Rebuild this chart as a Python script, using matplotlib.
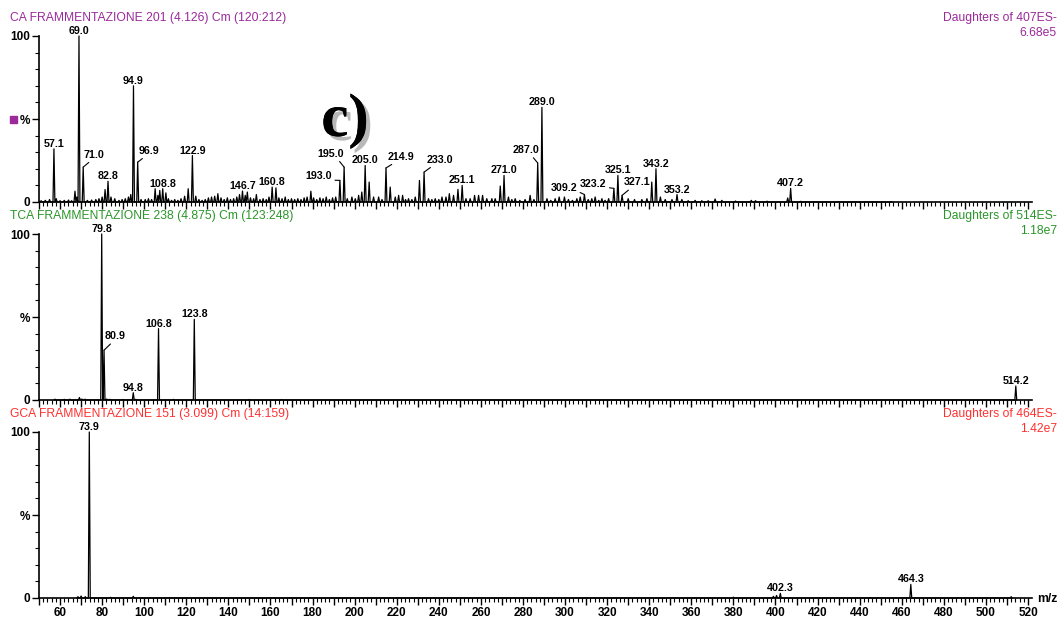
import numpy as np
import matplotlib.pyplot as plt
import matplotlib.patheffects as pe
from matplotlib.patches import Rectangle
from matplotlib.ticker import MultipleLocator, FuncFormatter

plt.rcParams['font.family'] = ['Liberation Sans', 'DejaVu Sans']

W, H = 1061, 617

# CA daughters of 407 (m/z, relative intensity %)
ca_peaks = [
    (51.0, 0.8), (53.0, 1.0), (55.0, 1.5), (57.1, 32), (58.2, 2.0), (60.0, 0.8),
    (62.0, 1.0), (64.0, 1.2), (65.5, 0.8), (67.1, 6.5), (68.0, 3.0), (69.0, 100),
    (71.0, 21), (73.0, 1.0), (75.0, 1.2), (77.0, 1.5), (78.5, 2.0), (80.0, 3.0),
    (81.4, 7.5), (82.8, 12.5), (84.2, 3.0), (86.0, 2.0), (88.0, 1.0), (89.5, 1.5),
    (91.0, 2.0), (92.5, 3.0), (93.6, 4.5), (94.9, 70), (96.9, 24), (98.5, 1.5),
    (100.5, 1.5), (102.0, 2.0), (103.5, 1.5), (105.2, 8.0), (106.5, 4.0), (107.4, 7.0),
    (108.8, 8.0), (110.3, 5.5), (111.5, 2.0), (113.0, 1.0), (114.5, 1.5), (116.0, 1.0),
    (117.5, 2.0), (119.2, 3.5), (120.9, 8.0), (122.9, 28), (124.5, 3.5), (126.0, 1.5),
    (127.5, 1.0), (129.0, 1.5), (130.5, 2.5), (132.0, 3.0), (133.5, 3.5), (135.0, 5.0),
    (136.5, 2.5), (138.0, 1.5), (139.5, 2.5), (141.0, 1.5), (142.5, 2.0), (144.0, 3.0),
    (145.3, 4.5), (146.7, 6.6), (148.0, 4.0), (149.0, 6.0), (150.5, 2.5), (152.0, 2.0),
    (153.3, 4.5), (155.0, 1.5), (156.5, 2.0), (158.0, 1.5), (159.3, 3.0), (160.8, 9.0),
    (162.6, 8.5), (164.0, 2.5), (165.5, 2.0), (167.0, 3.0), (168.5, 1.5), (170.0, 2.0),
    (171.5, 1.5), (173.0, 2.0), (174.5, 1.5), (176.0, 2.5), (177.4, 3.0), (179.2, 6.5),
    (180.5, 2.5), (182.0, 1.5), (183.5, 2.5), (185.0, 2.0), (186.5, 3.0), (188.0, 1.5),
    (189.5, 2.5), (191.0, 3.0), (193.0, 13), (195.0, 21), (196.5, 2.0), (198.7, 3.0),
    (200.3, 2.0), (201.9, 4.0), (203.4, 6.0), (205.0, 22), (206.9, 12), (209.0, 3.0),
    (211.4, 3.0), (213.0, 1.5), (214.9, 20.5), (216.9, 9.0), (219.3, 3.0), (220.9, 4.0),
    (222.8, 4.0), (224.2, 1.5), (225.6, 2.0), (227.2, 1.5), (228.8, 3.0), (230.8, 13),
    (233.0, 18), (235.1, 2.0), (236.7, 1.5), (238.3, 2.0), (240.0, 1.5), (241.5, 3.0),
    (243.4, 3.0), (245.0, 5.0), (247.0, 4.0), (249.1, 7.6), (251.1, 10), (252.9, 2.0),
    (254.9, 2.0), (257.0, 4.0), (258.9, 4.0), (260.8, 4.0), (262.8, 2.0), (265.2, 2.0),
    (266.8, 2.0), (269.2, 9.6), (271.0, 16), (273.1, 3.0), (274.7, 1.5), (276.3, 2.0),
    (278.5, 1.0), (281.0, 1.5), (283.4, 4.0), (285.2, 1.5), (287.0, 23.5), (289.0, 57),
    (291.4, 2.0), (293.2, 1.0), (295.3, 2.0), (297.2, 3.0), (299.7, 3.0), (301.6, 1.5),
    (303.5, 1.0), (305.6, 2.0), (307.2, 3.0), (309.2, 4.5), (311.0, 1.5), (312.7, 2.0),
    (314.3, 3.0), (316.0, 1.0), (317.5, 2.0), (319.0, 1.0), (320.7, 2.0), (323.2, 8.2),
    (325.1, 16), (327.1, 4.0), (330.0, 2.0), (333.0, 1.5), (336.5, 1.5), (338.9, 2.0),
    (341.2, 12), (343.2, 20), (345.3, 3.0), (347.6, 1.5), (350.8, 1.5), (353.2, 4.5),
    (355.5, 1.5), (358.5, 0.8), (361.8, 1.0), (365.0, 0.8), (368.0, 0.8), (371.3, 1.8),
    (374.5, 1.0), (381.0, 0.6), (388.5, 1.0), (390.5, 0.8), (396.0, 0.5), (405.8, 2.4),
    (407.2, 8.2), (412.0, 0.4), (430.0, 0.3), (455.0, 0.3),
]
ca_labels = [57.1, 69.0, 71.0, 82.8, 94.9, 96.9, 108.8, 122.9, 146.7, 160.8, 193.0,
             195.0, 205.0, 214.9, 233.0, 251.1, 271.0, 287.0, 289.0, 309.2, 323.2,
             325.1, 327.1, 343.2, 353.2, 407.2]

# TCA daughters of 514
tca_peaks = [
    (57.6, 0.5), (62.0, 0.4), (64.7, 0.5), (69.2, 1.5), (70.4, 0.6), (71.9, 0.5),
    (79.8, 100), (80.9, 30), (82.2, 0.6), (83.7, 0.4), (90.0, 0.3), (94.8, 4.4),
    (96.0, 0.4), (106.8, 43), (113.8, 0.4), (123.8, 48.6), (150.0, 0.3), (165.3, 0.3),
    (514.2, 8.4),
]
tca_labels = [79.8, 80.9, 94.8, 106.8, 123.8, 514.2]

# GCA daughters of 464
gca_peaks = [
    (68.5, 0.8), (70.0, 1.2), (72.0, 0.8), (73.9, 100), (84.0, 0.4), (94.8, 1.0),
    (112.0, 0.3), (380.0, 0.5), (399.0, 1.0), (400.5, 1.5), (402.3, 2.8), (445.0, 0.3),
    (464.3, 8.2), (512.0, 0.8),
]
gca_labels = [73.9, 402.3, 464.3]

# label placement for peaks that need a leader line: (dx, dy, relpos) in pixels
ca_leaders = {
    71.0: (11, 12.5, (0.4, 0)),
    96.9: (11, 11.4, (0.37, 0)),
    193.0: (-21, 4.3, (1, 0.1)),
    195.0: (-13.4, 13.4, (0.75, 0)),
    214.9: (15, 11.3, (0.32, 0)),
    233.0: (15.5, 12.4, (0.3, 0)),
    287.0: (-12, 13, (0.7, 0)),
    309.2: (-20.4, 6.3, (1, 0.2)),
    323.2: (-20.5, 4, (1, 0.2)),
    327.1: (15, 13, (0.3, 0)),
}
tca_leaders = {80.9: (11, 14, (0.42, 0))}

purple = '#9b2a9b'
green = '#2a962a'
red = '#ff3030'


def profile(peaks, half=0.45):
    mz, inten = map(np.array, zip(*sorted(peaks)))
    x = np.column_stack([mz - half, mz, mz + half]).ravel()
    y = np.column_stack([np.zeros_like(inten), inten, np.zeros_like(inten)]).ravel()
    return x, y


def panel(y_zero_px, peaks, labels, leaders, color, title, parent, scale, bottom=False):
    ax = fig.add_axes([39 / W, 1 - y_zero_px / H, 993 / W, 166 / H])
    x, y = profile(peaks)
    ax.plot(x, y, color='black', lw=0.9, clip_on=False)
    ax.set_xlim(50, 521.9)
    ax.set_ylim(0, 100)
    for s in ['top', 'right']:
        ax.spines[s].set_visible(False)
    for s in ['left', 'bottom']:
        ax.spines[s].set_linewidth(1.2)
    ax.set_yticks([0, 50, 100])
    ax.set_yticklabels(['0', '%', '100'])
    ax.yaxis.set_minor_locator(MultipleLocator(10))
    ax.xaxis.set_major_locator(MultipleLocator(10))
    ax.xaxis.set_minor_locator(MultipleLocator(2))
    ax.xaxis.set_major_formatter(FuncFormatter(lambda v, p: f'{v:.0f}' if v % 20 == 0 else ''))
    ax.tick_params(which='major', length=5, width=1, labelsize=8.5, pad=1.5)
    ax.tick_params(which='minor', length=3, width=0.8)
    ax.tick_params(axis='x', labelbottom=bottom)
    for t in ax.get_xticklabels() + ax.get_yticklabels():
        t.set_fontweight('bold')

    mz = np.array([p[0] for p in peaks])
    inten = np.array([p[1] for p in peaks])
    for m in labels:
        h = inten[np.isclose(mz, m)][0]
        dx, dy, rel = leaders.get(m, (0, 5, None))
        kw = {}
        if rel is not None:
            kw['arrowprops'] = dict(arrowstyle='-', lw=0.8, color='black',
                                    shrinkA=0, shrinkB=0, relpos=rel)
        ax.annotate(f'{m:.1f}', xy=(m, h), xytext=(dx, dy), textcoords='offset pixels',
                    ha='center', va='center', fontsize=7.7, fontweight='bold',
                    annotation_clip=False, **kw)

    y_title = y_zero_px - 184
    fig.text(10 / W, 1 - y_title / H, title, color=color, fontsize=8.7, va='center')
    fig.text(1057 / W, 1 - y_title / H, parent, color=color, fontsize=8.7,
             va='center', ha='right')
    fig.text(1057 / W, 1 - (y_title + 14.5) / H, scale, color=color, fontsize=8.7,
             va='center', ha='right')
    return ax


fig = plt.figure(figsize=(W / 100, H / 100), dpi=100)

ax1 = panel(202, ca_peaks, ca_labels, ca_leaders, purple,
            'CA FRAMMENTAZIONE 201 (4.126) Cm (120:212)', 'Daughters of 407ES-', '6.68e5')
ax2 = panel(400, tca_peaks, tca_labels, tca_leaders, green,
            'TCA FRAMMENTAZIONE 238 (4.875) Cm (123:248)', 'Daughters of 514ES-', '1.18e7')
ax3 = panel(598, gca_peaks, gca_labels, {}, red,
            'GCA FRAMMENTAZIONE 151 (3.099) Cm (14:159)', 'Daughters of 464ES-', '1.42e7',
            bottom=True)

fig.add_artist(Rectangle((10 / W, 1 - 122.5 / H), 6.5 / W, 6.5 / H,
                         transform=fig.transFigure, color=purple))
fig.text(1037 / W, 1 - 599 / H, 'm/z', fontsize=8.7, fontweight='bold', va='center')

fig.text(345 / W, 1 - 121 / H, 'c)', family='Liberation Serif', fontweight='bold',
         fontsize=44, ha='center', va='center',
         path_effects=[pe.withSimplePatchShadow(offset=(3, -3), shadow_rgbFace='#9a9a9a',
                                                alpha=0.7), pe.Normal()])

fig.savefig('out.png', dpi=100)
